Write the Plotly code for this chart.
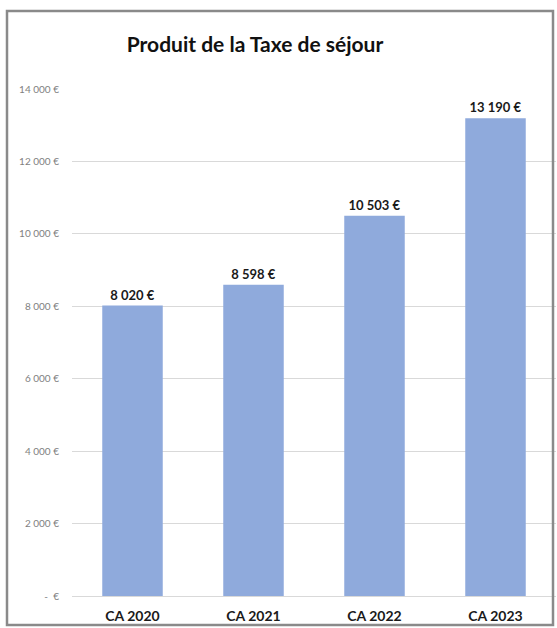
import plotly.graph_objects as go

categories = ["CA 2020", "CA 2021", "CA 2022", "CA 2023"]
values = [8020, 8598, 10503, 13190]
tick_vals = [0, 2000, 4000, 6000, 8000, 10000, 12000, 14000]
tick_text = ["-  €", "2 000 €", "4 000 €", "6 000 €", "8 000 €", "10 000 €", "12 000 €", "14 000 €"]


def fmt(v):
    return f"{v:,}".replace(",", " ") + " €"


labels = [fmt(v) for v in values]

W, H = 557, 628
L, R, T, B = 72, 1, 89, 32
pw, ph = W - L - R, H - T - B

def px(x):
    return (x - L) / pw

def py(y):
    return (H - B - y) / ph

fig = go.Figure(go.Bar(
    x=categories, y=values, text=labels, textposition="outside",
    textfont=dict(family="Lato, Carlito, sans-serif", size=13, color="#1a1a1a"),
    texttemplate="<b>%{text}</b>",
    marker=dict(color="#8faadc", line=dict(width=0)),
    cliponaxis=False,
))

fig.update_layout(
    width=W, height=H,
    margin=dict(l=L, r=R, t=T, b=B),
    paper_bgcolor="white", plot_bgcolor="white",
    bargap=0.5,
    showlegend=False,
    title=dict(text="<b>Produit de la Taxe de séjour</b>", x=255 / W, xanchor="center",
               y=1 - 45 / H, yanchor="middle",
               font=dict(family="Lato, Carlito, sans-serif", size=21, color="#111111")),
    xaxis=dict(showgrid=False, showline=False, ticks="", ticklabelstandoff=10,
               tickfont=dict(family="Lato, Carlito, sans-serif", size=14, color="#1a1a1a"),
               tickprefix="<b>", ticksuffix="</b>"),
    yaxis=dict(range=[0, 14000], tickvals=tick_vals, ticktext=tick_text,
               showgrid=True, gridcolor="#d9d9d9", gridwidth=1,
               zeroline=True, zerolinecolor="#d9d9d9", zerolinewidth=1,
               showline=False, ticks="", ticklabelstandoff=12,
               tickfont=dict(family="Lato, Carlito, sans-serif", size=10, color="#7f7f7f")),
)

fig.add_shape(type="rect", xref="paper", yref="paper",
              x0=px(7), x1=px(553), y0=py(625), y1=py(11),
              line=dict(color="#8a8a8a", width=2.5), fillcolor="rgba(0,0,0,0)", layer="above")

fig.write_html("out.html")
